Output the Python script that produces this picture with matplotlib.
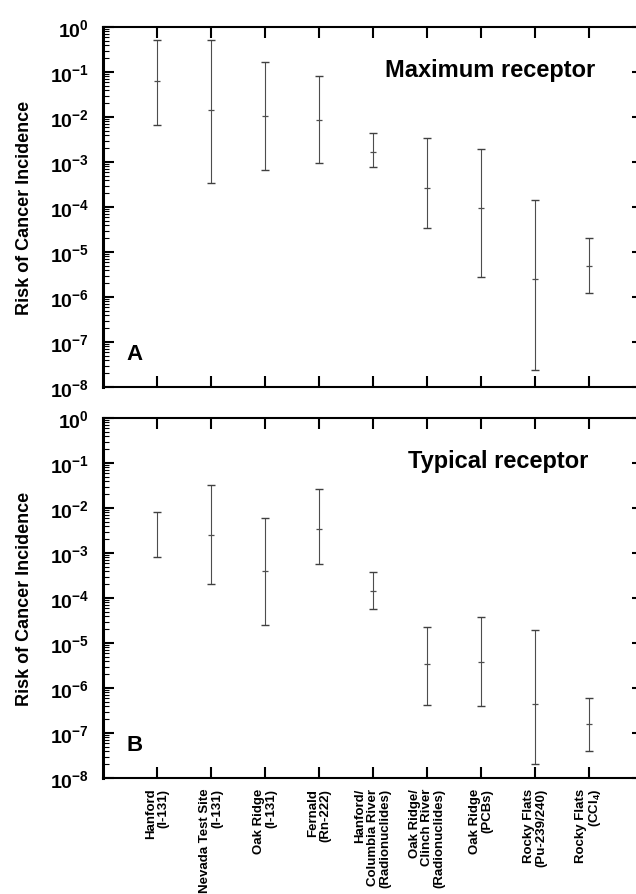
import numpy as np
import matplotlib
matplotlib.use('Agg')
import matplotlib.pyplot as plt
from matplotlib.ticker import FixedLocator, FixedFormatter, NullFormatter

plt.rcParams['font.family'] = ['Liberation Sans', 'DejaVu Sans']
plt.rcParams['mathtext.fontset'] = 'custom'
plt.rcParams['mathtext.rm'] = 'Liberation Sans:bold'
plt.rcParams['mathtext.bf'] = 'Liberation Sans:bold'
plt.rcParams['mathtext.it'] = 'Liberation Sans:bold'

# site labels
sites = ['Hanford\n(I-131)', 'Nevada Test Site\n(I-131)', 'Oak Ridge\n(I-131)',
         'Fernald\n(Rn-222)', 'Hanford/\nColumbia River\n(Radionuclides)',
         'Oak Ridge/\nClinch River\n(Radionuclides)', 'Oak Ridge\n(PCBs)',
         'Rocky Flats\n(Pu-239/240)', 'Rocky Flats\n(CCl$_\\mathbf{4}$)']

# panel A - maximum receptor
max_low = [6.5e-3, 3.4e-4, 6.8e-4, 9.5e-4, 7.6e-4, 3.4e-5, 2.8e-6, 2.4e-8, 1.23e-6]
max_mid = [6.2e-2, 1.43e-2, 1.04e-2, 8.7e-3, 1.7e-3, 2.6e-4, 9.4e-5, 2.5e-6, 4.8e-6]
max_high = [0.51, 0.51, 0.164, 0.083, 4.4e-3, 3.4e-3, 1.9e-3, 1.4e-4, 2.0e-5]

# panel B - typical receptor
typ_low = [8.3e-4, 2.1e-4, 2.5e-5, 5.7e-4, 5.8e-5, 4.2e-7, 3.9e-7, 2.0e-8, 3.9e-8]
typ_mid = [np.nan, 2.5e-3, 3.9e-4, 3.5e-3, 1.45e-4, 3.5e-6, 3.8e-6, 4.5e-7, 1.56e-7]
typ_high = [8.3e-3, 3.3e-2, 5.9e-3, 2.7e-2, 3.7e-4, 2.3e-5, 3.7e-5, 1.95e-5, 5.9e-7]

decades = list(range(-8, 1))
ytick_labels = ['$\\mathbf{10^{%d}}$' % d for d in decades]

fig = plt.figure(figsize=(6.36, 8.95), dpi=100)
ax_1 = fig.add_axes([0.162, 0.5665, 0.849, 0.4022])
ax_2 = fig.add_axes([0.162, 0.1296, 0.849, 0.4022])

panels = [(ax_1, max_low, max_mid, max_high, 'Maximum receptor', 'A', 0.717),
          (ax_2, typ_low, typ_mid, typ_high, 'Typical receptor', 'B', 0.731)]

x = np.arange(1, len(sites) + 1)
for ax, low, mid, high, title, letter, tx in panels:
    low = np.array(low)
    high = np.array(high)
    ax.vlines(x, low, high, color='0.3', lw=0.8)
    ax.hlines(low, x - 0.08, x + 0.08, color='0.25', lw=1.0)
    ax.hlines(high, x - 0.08, x + 0.08, color='0.25', lw=1.0)
    ax.plot(x, mid, ls='none', marker='_', ms=5, mew=0.9, color='0.3')

    ax.set_yscale('log')
    ax.set_ylim(1e-8, 1)
    ax.set_xlim(0, 10)
    ax.yaxis.set_major_locator(FixedLocator([10.0 ** d for d in decades]))
    ax.yaxis.set_major_formatter(FixedFormatter(ytick_labels))
    ax.yaxis.set_minor_locator(FixedLocator([k * 10.0 ** d for d in range(-8, 0) for k in range(2, 10)]))
    ax.yaxis.set_minor_formatter(NullFormatter())
    ax.set_xticks(x)
    ax.tick_params(axis='both', which='major', direction='in', length=8, width=1.5,
                   top=True, right=True, labelsize=14, pad=10)
    ax.tick_params(axis='y', which='minor', direction='in', length=4.5, width=0.8, right=False)
    for s in ax.spines.values():
        s.set_linewidth(1.5)
    ax.spines['left'].set_linewidth(2.2)
    ax.set_ylabel('Risk of Cancer Incidence', fontsize=13, fontweight='bold', labelpad=12)
    ax.text(tx, 0.881, title, transform=ax.transAxes, ha='center', va='center',
            fontsize=17, fontweight='bold')
    ax.text(0.058, 0.092, letter, transform=ax.transAxes, ha='center', va='center',
            fontsize=16, fontweight='bold')

ax_1.set_xticklabels([])
ax_2.set_xticklabels(sites, rotation=90, ha='center', va='top', fontsize=9.5,
                     fontweight='bold', multialignment='right', linespacing=1.05)
ax_2.tick_params(axis='x', pad=7)

fig.savefig('out.png', dpi=100)
